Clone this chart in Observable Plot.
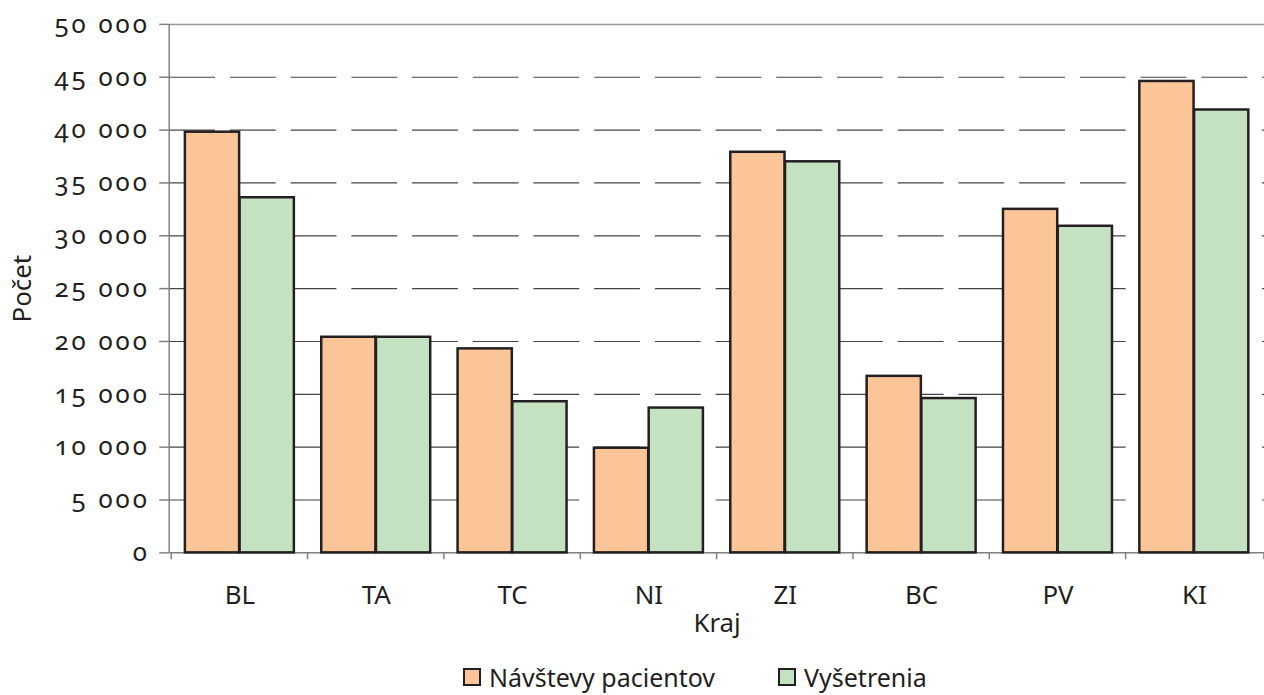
<!DOCTYPE html>
<html><head><meta charset="utf-8">
<script src="https://cdn.jsdelivr.net/npm/d3@7"></script>
<script src="https://cdn.jsdelivr.net/npm/@observablehq/plot@0.6"></script>
<style>
html,body{margin:0;padding:0;overflow:hidden;background:#fff;font-family:"Noto Sans",sans-serif;}
#chart{position:relative;width:1264px;height:695px;}
.legend{position:absolute;top:662px;left:463px;display:flex;align-items:center;font-size:25px;line-height:30px;color:#231f20;font-family:"Noto Sans",sans-serif}
.item{display:flex;align-items:center}
.sw{width:14px;height:14px;border:2px solid #231f20;display:inline-block;margin-right:8px}
svg g[aria-label="y-axis tick label"] text{font-variant-numeric:oldstyle-nums;font-feature-settings:"onum" 1;letter-spacing:3px;}
</style></head><body><div id="chart"></div>
<script>
const categories = ["BL","TA","TC","NI","ZI","BC","PV","KI"];
const seriesNames = ["Návštevy pacientov","Vyšetrenia"];
const navstevy = [39800,20400,19300,9900,37900,16700,32500,44600];
const vysetrenia = [33600,20400,14300,13700,37000,14600,30900,41900];
const yTicks = [0,5000,10000,15000,20000,25000,30000,35000,40000,45000,50000];
const colors = ["#fbc597","#c4e2c2"];

const rows0 = categories.map((k,i)=>({kraj:k, series:seriesNames[0], value:navstevy[i]}));
const rows1 = categories.map((k,i)=>({kraj:k, series:seriesNames[1], value:vysetrenia[i]}));

const W = 1270, H = 650, ML = 170, MR = 0, MT = 24, MB = 95;
const bw = (W - ML - MR) / categories.length;
const pad = bw * 0.1, barW = bw * 0.4;

const loc = d3.formatLocale({decimal:",", thousands:" ", grouping:[3], currency:["",""]});
const fmt = loc.format(",");

const boundaryTicks = (index, scales, values, dims) => {
  const g = d3.create("svg:g").attr("stroke","#808080").attr("stroke-width",1.5);
  const y0 = scales.y(0);
  const xs = categories.map(c => scales.x(c)).concat([dims.width - dims.marginRight]);
  for (const x of xs) g.append("line").attr("x1",x).attr("x2",x).attr("y1",y0).attr("y2",y0+7);
  g.append("line").attr("x1",dims.marginLeft).attr("x2",dims.marginLeft).attr("y1",dims.marginTop).attr("y2",y0);
  return g.node();
};

const chart = Plot.plot({
  width: W, height: H, marginLeft: ML, marginRight: MR, marginTop: MT, marginBottom: MB,
  style: {fontFamily: "Noto Sans, sans-serif", fontSize: "26px", color: "#231f20", background: "#fff"},
  x: {domain: categories, padding: 0},
  y: {domain: [0, 50000]},
  color: {domain: seriesNames, range: colors},
  marks: [
    Plot.ruleY(yTicks.filter(t => t > 0 && t < 50000), {stroke: "#444", strokeWidth: 1.2, strokeDasharray: "46,15"}),
    Plot.ruleY([50000], {stroke: "#9a9a9a", strokeWidth: 1.5}),
    Plot.ruleY([0], {stroke: "#808080", strokeWidth: 1.5}),
    Plot.barY(rows0, {x: "kraj", y: "value", fill: "series", stroke: "#231f20", strokeWidth: 2.5, insetLeft: pad, insetRight: pad + barW}),
    Plot.barY(rows1, {x: "kraj", y: "value", fill: "series", stroke: "#231f20", strokeWidth: 2.5, insetLeft: pad + barW, insetRight: pad}),
    boundaryTicks,
    Plot.axisY({ticks: yTicks, tickSize: 10, tickPadding: 10, tickFormat: fmt, label: null, stroke: "#808080", strokeWidth: 1.5, fontSize: 26}),
    Plot.axisX({tickSize: 0, tickPadding: 33, label: null, fontSize: 26}),
    Plot.text(["Počet"], {frameAnchor: "left", textAnchor: "middle", dx: -148, rotate: -90, fontSize: 26, fill: "#231f20"}),
    Plot.text(["Kraj"], {frameAnchor: "bottom", dy: 80, fontSize: 26, fill: "#231f20"})
  ]
});
const host = document.getElementById("chart");
host.appendChild(chart);
const leg = document.createElement("div");
leg.className = "legend";
seriesNames.forEach((n, i) => {
  const it = document.createElement("span");
  it.className = "item";
  if (i > 0) it.style.marginLeft = "63px";
  const sw = document.createElement("span");
  sw.className = "sw"; sw.style.background = colors[i];
  it.appendChild(sw);
  it.appendChild(document.createTextNode(n));
  leg.appendChild(it);
});
host.appendChild(leg);
</script></body></html>
